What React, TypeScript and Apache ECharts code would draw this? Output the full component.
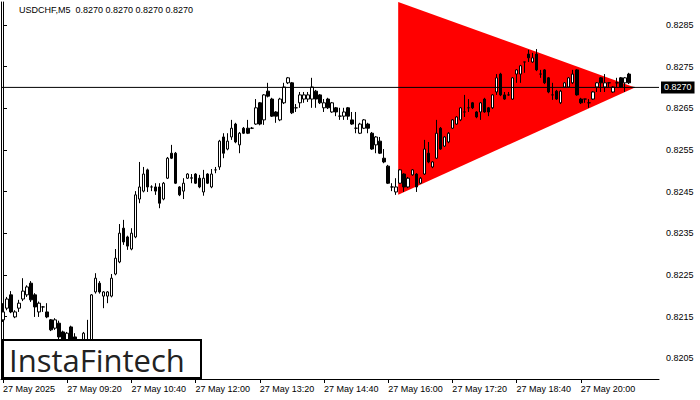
import React, { useEffect, useRef } from "react";
import * as echarts from "echarts";

// [open, close, low, high]
const candles: number[][] = [
  [0.82142, 0.82161, 0.82137, 0.82182], [0.8217, 0.82192, 0.82165, 0.82197], [0.82202, 0.82161, 0.82158, 0.82211],
  [0.82149, 0.82161, 0.82146, 0.82165], [0.8217, 0.82182, 0.82161, 0.8219], [0.82192, 0.82211, 0.82187, 0.82242],
  [0.82202, 0.82221, 0.82197, 0.82225], [0.8223, 0.8219, 0.82185, 0.82235], [0.82202, 0.82173, 0.82149, 0.82206],
  [0.82161, 0.82182, 0.82149, 0.82186], [0.82173, 0.82173, 0.82161, 0.82175], [0.82161, 0.82149, 0.82146, 0.82182],
  [0.82142, 0.82118, 0.82115, 0.82144], [0.82122, 0.82142, 0.82118, 0.82146], [0.82134, 0.82101, 0.82096, 0.8214],
  [0.82113, 0.82081, 0.82076, 0.82116], [0.82081, 0.8211, 0.82075, 0.82113], [0.82125, 0.82081, 0.82075, 0.82128],
  [0.82101, 0.82085, 0.82082, 0.8211], [0.82085, 0.82075, 0.82068, 0.8209], [0.82075, 0.8211, 0.8207, 0.82113],
  [0.82078, 0.8209, 0.82072, 0.82142], [0.82085, 0.82202, 0.8208, 0.82204], [0.82209, 0.82242, 0.82205, 0.82254],
  [0.8223, 0.82209, 0.82205, 0.82235], [0.82199, 0.82209, 0.8217, 0.82211], [0.82199, 0.82209, 0.82182, 0.82211],
  [0.82199, 0.82242, 0.82196, 0.82252], [0.82252, 0.8229, 0.82249, 0.82312], [0.82281, 0.8235, 0.82278, 0.82372],
  [0.82362, 0.82329, 0.82322, 0.82382], [0.82341, 0.82319, 0.8231, 0.82344], [0.82312, 0.8235, 0.82309, 0.82362],
  [0.82341, 0.82442, 0.82338, 0.82451], [0.82432, 0.82461, 0.82422, 0.82521], [0.82451, 0.82492, 0.82448, 0.82509],
  [0.82502, 0.82461, 0.82449, 0.82505], [0.82461, 0.82461, 0.82451, 0.82465], [0.82461, 0.82451, 0.82442, 0.8247],
  [0.82461, 0.82422, 0.8241, 0.8247], [0.82432, 0.8247, 0.82429, 0.82473], [0.82482, 0.8253, 0.8248, 0.82533],
  [0.82542, 0.8253, 0.82528, 0.82562], [0.82542, 0.8247, 0.82468, 0.82545], [0.82461, 0.82442, 0.82439, 0.82463],
  [0.82451, 0.8247, 0.82432, 0.82482], [0.82482, 0.82492, 0.8248, 0.82494], [0.82482, 0.82483, 0.8247, 0.82492],
  [0.82492, 0.8247, 0.82468, 0.82494], [0.82482, 0.82461, 0.82458, 0.8249], [0.82449, 0.82482, 0.8244, 0.82502],
  [0.82492, 0.8247, 0.82468, 0.82494], [0.82461, 0.82492, 0.82458, 0.82504], [0.82502, 0.82502, 0.82494, 0.82509],
  [0.82509, 0.82571, 0.82502, 0.82574], [0.82581, 0.82542, 0.8253, 0.8259], [0.82552, 0.82571, 0.82549, 0.8259],
  [0.82581, 0.82602, 0.82574, 0.82622], [0.82612, 0.82569, 0.82566, 0.82615], [0.82562, 0.8259, 0.82542, 0.82593],
  [0.82602, 0.8259, 0.82588, 0.82605], [0.82602, 0.8259, 0.82588, 0.82622], [0.82602, 0.82602, 0.826, 0.82605],
  [0.82612, 0.82651, 0.8261, 0.82672], [0.82663, 0.82612, 0.82609, 0.82665], [0.82622, 0.82682, 0.8261, 0.82684],
  [0.82691, 0.82679, 0.82676, 0.82711], [0.82672, 0.82631, 0.82629, 0.82675], [0.82641, 0.82631, 0.82615, 0.82643],
  [0.82622, 0.82672, 0.82619, 0.82675], [0.82663, 0.82701, 0.8266, 0.82711], [0.82711, 0.82723, 0.82708, 0.82725],
  [0.82711, 0.82639, 0.82636, 0.82713], [0.82651, 0.82651, 0.82641, 0.8266], [0.82663, 0.82682, 0.82651, 0.82689],
  [0.82672, 0.82682, 0.82663, 0.82689], [0.82672, 0.82682, 0.82665, 0.82689], [0.82672, 0.82701, 0.82651, 0.82723],
  [0.82691, 0.82672, 0.82651, 0.82694], [0.82682, 0.82663, 0.8266, 0.82684], [0.82651, 0.82663, 0.82641, 0.82672],
  [0.82672, 0.82651, 0.82648, 0.82675], [0.82641, 0.82663, 0.82639, 0.82665], [0.82651, 0.82641, 0.82631, 0.82653],
  [0.82631, 0.82631, 0.82622, 0.82651], [0.82631, 0.82641, 0.82622, 0.82651], [0.82651, 0.82631, 0.82622, 0.82653],
  [0.82622, 0.82612, 0.8261, 0.82641], [0.82602, 0.82602, 0.8259, 0.82641], [0.8259, 0.82612, 0.82588, 0.82615],
  [0.82602, 0.82622, 0.826, 0.82624], [0.82612, 0.82602, 0.8259, 0.82615], [0.8259, 0.82552, 0.8255, 0.82593],
  [0.82562, 0.82581, 0.82542, 0.82583], [0.82571, 0.82542, 0.8254, 0.82581], [0.8253, 0.82521, 0.82518, 0.82552],
  [0.82511, 0.8247, 0.82468, 0.82514], [0.82461, 0.82461, 0.82451, 0.8247], [0.82449, 0.82461, 0.82442, 0.82482],
  [0.8247, 0.82502, 0.82468, 0.82504], [0.82492, 0.82461, 0.82449, 0.82494], [0.82461, 0.82482, 0.82458, 0.82485],
  [0.8249, 0.82502, 0.82488, 0.82504], [0.82492, 0.82461, 0.82449, 0.82494], [0.8247, 0.82482, 0.82468, 0.82485],
  [0.82492, 0.82552, 0.8249, 0.82574], [0.82542, 0.82521, 0.82518, 0.82569], [0.82509, 0.82521, 0.82506, 0.82523],
  [0.8253, 0.8259, 0.82528, 0.82622], [0.82602, 0.82552, 0.8255, 0.82605], [0.82559, 0.82581, 0.82557, 0.82583],
  [0.82569, 0.8259, 0.82566, 0.82593], [0.82602, 0.82622, 0.826, 0.82624], [0.82612, 0.82629, 0.8261, 0.82631],
  [0.82622, 0.82651, 0.82619, 0.82653], [0.82641, 0.82641, 0.82629, 0.82682], [0.82651, 0.82651, 0.82641, 0.82672],
  [0.82663, 0.82651, 0.82648, 0.82665], [0.82641, 0.82629, 0.82626, 0.82643], [0.82641, 0.82663, 0.82622, 0.82665],
  [0.82672, 0.82641, 0.82639, 0.82675], [0.82651, 0.82641, 0.82631, 0.82653], [0.82651, 0.82682, 0.82648, 0.82684],
  [0.82689, 0.82723, 0.82682, 0.82732], [0.82732, 0.82682, 0.82679, 0.82735], [0.82682, 0.82672, 0.8267, 0.82689],
  [0.82682, 0.82682, 0.8268, 0.82689], [0.82672, 0.82723, 0.8267, 0.82725], [0.82732, 0.82742, 0.82711, 0.82744],
  [0.82732, 0.82752, 0.82711, 0.82754], [0.82761, 0.82761, 0.82735, 0.82761], [0.8278, 0.82771, 0.82761, 0.8279],
  [0.82761, 0.82771, 0.82759, 0.82783], [0.8278, 0.82742, 0.82739, 0.82792], [0.82732, 0.82732, 0.82723, 0.82742],
  [0.82742, 0.82711, 0.82708, 0.82744], [0.82723, 0.82689, 0.82686, 0.82725], [0.82682, 0.82682, 0.8267, 0.82711],
  [0.82691, 0.82672, 0.8267, 0.82694], [0.82663, 0.82691, 0.8266, 0.82694], [0.82701, 0.82711, 0.82699, 0.82713],
  [0.82701, 0.82723, 0.82699, 0.82725], [0.82711, 0.82732, 0.82708, 0.82742], [0.82742, 0.82682, 0.8268, 0.82744],
  [0.82672, 0.82663, 0.8266, 0.82675], [0.82672, 0.82672, 0.82663, 0.82672], [0.82663, 0.82663, 0.82651, 0.82672],
  [0.82672, 0.82689, 0.8267, 0.82691], [0.82701, 0.82711, 0.82689, 0.82713], [0.82723, 0.82711, 0.82689, 0.82725],
  [0.82701, 0.82711, 0.82689, 0.82732], [0.82711, 0.82711, 0.82701, 0.82711], [0.82689, 0.82701, 0.82687, 0.82703],
  [0.82711, 0.82711, 0.82701, 0.82723], [0.82723, 0.82701, 0.82699, 0.82725], [0.82711, 0.82723, 0.82689, 0.82725],
  [0.82732, 0.82711, 0.82708, 0.82735], [0.827, 0.827, 0.827, 0.827],
];

const SLOTS = 164;
const startMinutes = 8 * 60;
const categories: string[] = Array.from({ length: SLOTS }, (_, i) => {
  const m = startMinutes + i * 5;
  const hh = String(Math.floor(m / 60) % 24).padStart(2, "0");
  const mm = String(m % 60).padStart(2, "0");
  return `${hh}:${mm}`;
});

const tickLabels = [
  "27 May 2025", "27 May 09:20", "27 May 10:40", "27 May 12:00", "27 May 13:20",
  "27 May 14:40", "27 May 16:00", "27 May 17:20", "27 May 18:40", "27 May 20:00",
];
const yTicks = [0.8205, 0.8215, 0.8225, 0.8235, 0.8245, 0.8255, 0.8265, 0.8275, 0.8285];
const currentPrice = 0.827;
const priceLineX = [-0.5, 163.5];
const triangleX = [98.5, 98.5, 157.5];
const triangleY = [0.82905, 0.82442, 0.827];
const titleText = "USDCHF,M5  0.8270 0.8270 0.8270 0.8270";

const FONT = "Liberation Sans";

export default function App() {
  const ref = useRef<HTMLDivElement>(null);
  useEffect(() => {
    if (!ref.current) return;
    const chart = echarts.init(ref.current, undefined, { renderer: "svg" });
    const showTick = (i: number) => i % 16 === 0 && i / 16 < tickLabels.length;
    chart.setOption({
      animation: false,
      backgroundColor: "#ffffff",
      grid: { left: 1, right: 41, top: 2, bottom: 21, containLabel: false },
      xAxis: [
        {
          type: "category",
          data: categories,
          boundaryGap: true,
          axisLine: { show: true, lineStyle: { color: "#000", width: 1 } },
          axisTick: { show: true, alignWithLabel: true, interval: (i: number) => showTick(i), length: 4, lineStyle: { color: "#000" } },
          axisLabel: {
            interval: (i: number) => showTick(i),
            formatter: (_v: string, i: number) => tickLabels[i / 16] ?? "",
            align: "left",
            margin: 5,
            color: "#000",
            fontSize: 9,
            fontFamily: FONT,
          },
          splitLine: { show: false },
        },
        { type: "value", min: -0.5, max: SLOTS - 0.5, show: false },
      ],
      yAxis: [
        {
          type: "value",
          position: "right",
          min: 0.82,
          max: 0.82905,
          scale: true,
          axisLine: { show: true, lineStyle: { color: "#000", width: 1 } },
          axisTick: { show: true, length: 4, customValues: yTicks, lineStyle: { color: "#000" } },
          axisLabel: {
            customValues: yTicks,
            formatter: (v: number) => v.toFixed(4),
            color: "#000",
            fontSize: 9,
            fontFamily: FONT,
            margin: 7,
          },
          splitLine: { show: false },
        },
        {
          type: "value",
          position: "left",
          min: 0.82,
          max: 0.82905,
          axisLine: { show: true, onZero: false, lineStyle: { color: "#000", width: 1 } },
          axisTick: { show: false },
          axisLabel: { show: false },
          splitLine: { show: false },
        },
      ],
      series: [
        {
          type: "custom",
          xAxisIndex: 1,
          yAxisIndex: 0,
          z: 1,
          silent: true,
          data: [[0]],
          renderItem: (_params: any, api: any) => ({
            type: "polygon",
            shape: { points: triangleX.map((x, i) => api.coord([x, triangleY[i]])) },
            style: { fill: "#ff0000" },
          }),
        },
        {
          type: "candlestick",
          xAxisIndex: 0,
          yAxisIndex: 0,
          z: 3,
          barWidth: 3,
          data: candles,
          itemStyle: {
            color: "#ffffff",
            color0: "#000000",
            borderColor: "#000000",
            borderColor0: "#000000",
            borderWidth: 1,
          },
        },
        {
          type: "line",
          xAxisIndex: 1,
          yAxisIndex: 0,
          z: 4,
          silent: true,
          symbol: "none",
          data: priceLineX.map((x) => [x, currentPrice]),
          lineStyle: { color: "#000", width: 1, type: "solid" },
          endLabel: {
            show: true,
            formatter: () => currentPrice.toFixed(4),
            backgroundColor: "#000",
            color: "#fff",
            fontSize: 9,
            fontFamily: FONT,
            padding: [2, 3, 1, 3],
            distance: 2,
          },
        },
      ],
      graphic: [
        {
          type: "text",
          left: 19,
          top: 5,
          style: { text: titleText, fill: "#000", font: `9px "${FONT}"` },
        },
        {
          type: "rect",
          z: 100,
          shape: { x: 3, y: 340, width: 198, height: 38 },
          style: { fill: "#fff", stroke: "#000", lineWidth: 2 },
        },
        {
          type: "text",
          z: 101,
          x: 9,
          y: 360,
          style: {
            text: "InstaFintech",
            fill: "#222",
            font: `31px "Open Sans"`,
            verticalAlign: "middle",
          },
        },
      ],
    });
    return () => chart.dispose();
  }, []);
  return <div ref={ref} style={{ position: "fixed", left: 0, top: 0, width: 700, height: 400 }} />;
}
